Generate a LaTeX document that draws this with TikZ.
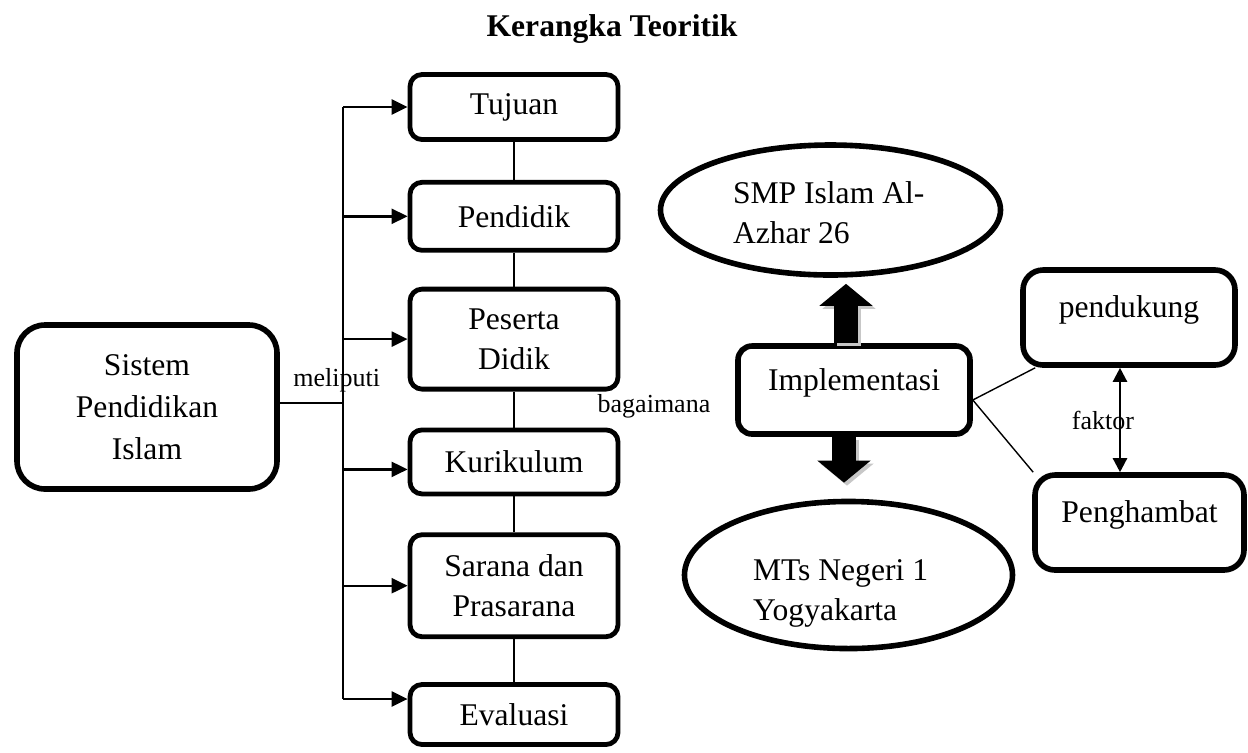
\documentclass[tikz,border=0pt]{standalone}
\usepackage{fontspec}
\setmainfont{Liberation Serif}
\usetikzlibrary{positioning,calc,arrows.meta,shapes}

\begin{document}
\begin{tikzpicture}[
        x=0.5pt, y=-0.5pt,
        font=\fontsize{15.8}{20}\selectfont,
        edgetag/.style={font=\fontsize{13}{13}\selectfont, inner sep=1pt},
        box/.style={draw, line width=2.4pt, rounded corners=6pt, align=center, minimum width=104pt},
        bigbox/.style={draw, line width=2.8pt, align=center},
        school/.style={draw, ellipse, line width=2.8pt, inner sep=0pt, align=flush left},
        conn/.style={line width=1.2pt},
        arr/.style={conn, -{Triangle[length=8pt, width=7.5pt]}},
        link/.style={line width=0.7pt},
        fat/.style={line width=12pt, -{Triangle[length=11pt, width=26pt]}},
        fatshade/.style={fat, draw=black!22, transform canvas={shift={(1.5pt,-1.5pt)}}}
      ]

      \useasboundingbox (0,0) rectangle (1248,752);

      \node (title) [font=\fontsize{15.8}{20}\selectfont\bfseries] at (612,29) {Kerangka Teoritik};

      \node (sis) [bigbox, rounded corners=14pt, minimum width=130pt, minimum height=82pt,
        font=\fontsize{15.8}{21}\selectfont] at (147,407) {Sistem\\Pendidikan\\Islam};

      \node (tuj) [box, minimum height=32.5pt] at (514,107) {Tujuan};
      \node (pdk) [node distance=19pt, below=of tuj, box, minimum height=34pt] {Pendidik};
      \node (psd) [node distance=17pt, below=of pdk, box, minimum height=50pt] {Peserta\\Didik};
      \node (kur) [node distance=18pt, below=of psd, box, minimum height=32pt] {Kurikulum};
      \node (sar) [node distance=18pt, below=of kur, box, minimum height=51pt] {Sarana dan\\Prasarana};
      \node (eva) [node distance=21.5pt, below=of sar, box, minimum height=30pt] {Evaluasi};

      \node (bgm) [edgetag] at (654,406) {bagaimana};

      \node (impl) [bigbox, rounded corners=7pt, minimum width=116pt, minimum height=44pt,
        text height=11pt, text depth=11pt] at (854,390) {Implementasi};
      \node (smp) [school, minimum width=170pt, minimum height=65pt, text width=97.5pt,
        text height=13pt, text depth=20pt] at (830.5,210) {\mbox{SMP Islam Al-}\\Azhar 26};
      \node (mts) [school, minimum width=164pt, minimum height=60pt, text width=95.5pt,
        text height=28.5pt, text depth=23.5pt] at (848.5,575) {MTs Negeri 1\\Yogyakarta};

      \node (pend) [bigbox, rounded corners=10pt, minimum width=106pt, minimum height=47.5pt,
        text height=11pt, text depth=11pt] at (1129,317.5) {pendukung};
      \node (phb) [bigbox, rounded corners=10pt, minimum width=104.5pt, minimum height=47.5pt,
        text height=11pt, text depth=11pt] at (1139.5,522.5) {Penghambat};

      % meliputi
      \coordinate (bus) at (343,0);
      \coordinate (sout) at ([yshift=2pt]sis.east);
      \coordinate (kurin) at ([yshift=-3.75pt]kur.west);
      \coordinate (evain) at ([yshift=7.75pt]eva.west);
      \draw[conn] (sout) -- node[edgetag, above, pos=0.9, yshift=4pt] {meliputi} (sout -| bus);
      \draw[conn] (bus |- tuj.west) -- (bus |- evain);
      \draw[arr] (bus |- tuj.west) -- (tuj.west);
      \draw[arr] (bus |- pdk.west) -- (pdk.west);
      \draw[arr] (bus |- psd.west) -- (psd.west);
      \draw[arr] (bus |- kurin) -- (kurin);
      \draw[arr] (bus |- sar.west) -- (sar.west);
      \draw[arr] (bus |- evain) -- (evain);

      \draw[link] (tuj) -- (pdk);
      \draw[link] (pdk) -- (psd);
      \draw[link] (psd) -- (kur);
      \draw[link] (kur) -- (sar);
      \draw[link] (sar) -- (eva);

      % implementasi
      \draw[fatshade, shorten >=3pt] ([xshift=-4pt]impl.north) -- ([xshift=-4pt]impl.north |- smp.south);
      \draw[fat, shorten >=3pt] ([xshift=-4pt]impl.north) -- ([xshift=-4pt]impl.north |- smp.south);
      \draw[fatshade, shorten >=8pt] ([xshift=-5pt]impl.south) -- ([xshift=-5pt]impl.south |- mts.north);
      \draw[fat, shorten >=8pt] ([xshift=-5pt]impl.south) -- ([xshift=-5pt]impl.south |- mts.north);

      % faktor
      \coordinate (iout) at ([yshift=-5pt]impl.east);
      \coordinate (fk) at (1120,0);
      \draw[link] (iout) -- ([xshift=7.5pt]pend.south west);
      \draw[link] (iout) -- ([xshift=0.5pt]phb.north west);
      \draw[conn, {Triangle[length=7pt, width=7pt]}-{Triangle[length=7pt, width=7pt]}]
        (fk |- pend.south) -- node[edgetag, xshift=-8.5pt] {faktor} (fk |- phb.north);

    \end{tikzpicture}
\end{document}
